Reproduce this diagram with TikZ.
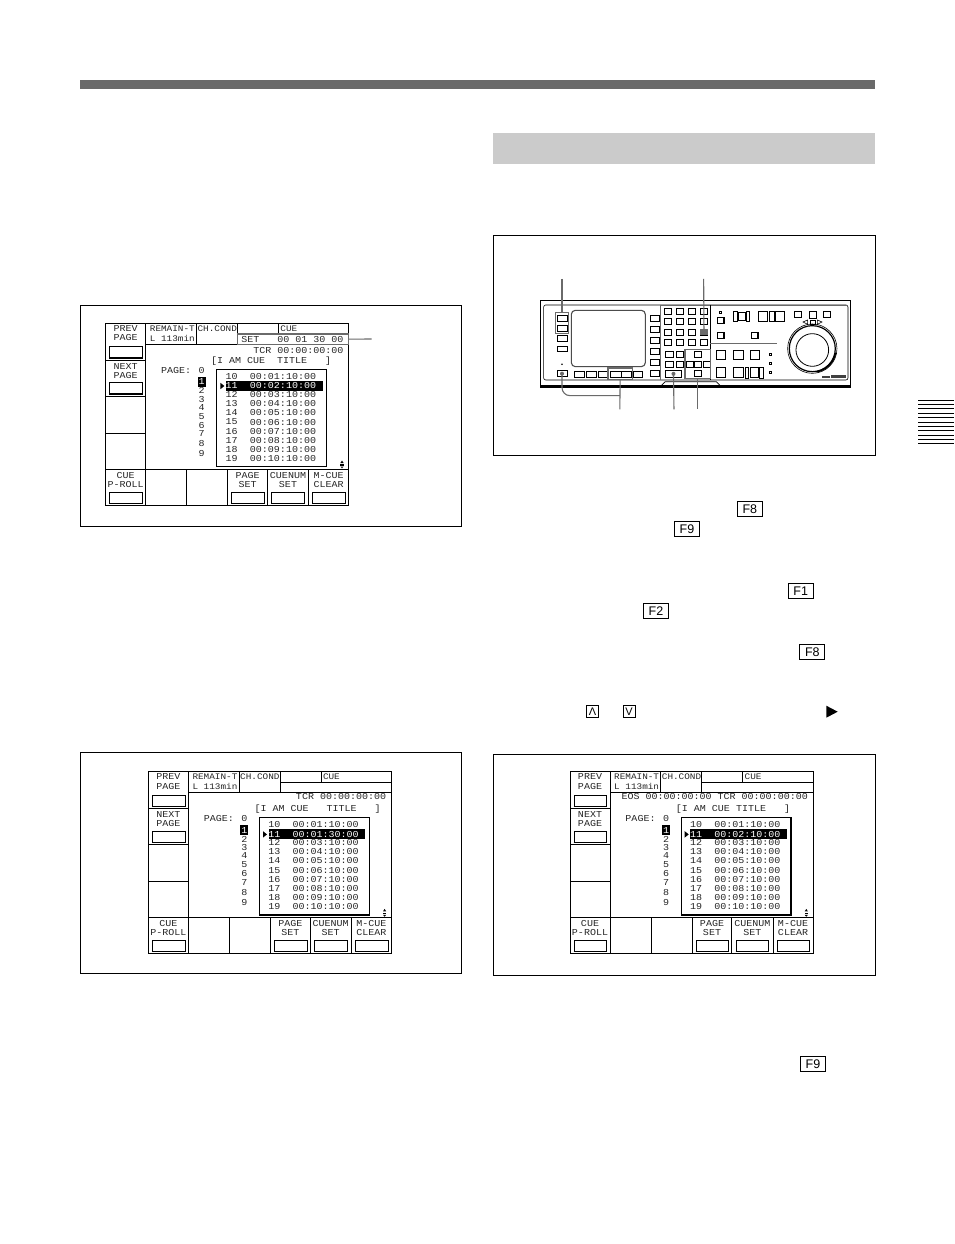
\documentclass[tikz,border=0pt]{standalone}
\usepackage{fontspec}
\setmainfont{Liberation Sans}
\setmonofont[FakeStretch=1.1]{Liberation Mono}
\usetikzlibrary{positioning}

\definecolor{leadgray}{HTML}{6A6A6A}
\definecolor{barbgray}{HTML}{CBCBCB}

\tikzset{
	figframe/.style={draw=black,line width=0.7pt},
	lcd/.style={inner sep=0pt,font=\fontsize{9.1}{10}\ttfamily,text=black!85},
	lcdhead/.style={lcd,font=\fontsize{8.5}{10}\ttfamily},
	lcdline/.style={line width=0.8pt},
	softkey/.style={draw,line width=0.7pt,fill=white,inner sep=0pt,minimum width=32.5pt,minimum height=11pt,anchor=north west},
	fkey/.style={draw,line width=0.7pt,inner sep=0pt,minimum width=25pt,minimum height=14.5pt,font=\fontsize{12.5}{12}\selectfont},
	arrkey/.style={draw,line width=0.7pt,inner sep=0pt,minimum size=12pt,font=\fontsize{11}{10}\selectfont},
	devkey/.style={draw,line width=0.8pt,inner sep=0pt,outer sep=0pt},
	devgrp/.style={draw=leadgray,line width=1.2pt,inner sep=0pt,outer sep=0pt},
	leader/.style={draw=leadgray,line width=1.1pt},
}

% soft key with its shadow, offsets inside the screen
\newcommand{\softbtn}[3]{
	\node[softkey] (#1) at (#2,#3) {};
	\draw[line width=1.1pt] (#1.south west) -- (#1.south east) -- (#1.north east);
}

% one whole LCD screen: name, x, y, row 11 time, top right text, its dy, title, its dx
\newcommand{\lcdscreen}[8]{
	\begin{scope}[shift={(#2,#3)}]
		\draw[lcdline] (0,0) rectangle (243,182);
		\draw[lcdline] (40,0) -- (40,182);
		\draw[lcdline] (40,21) -- (243,21);
		\draw[lcdline] (90.7,0) -- (90.7,21);
		\draw[lcdline] (131.7,0) -- (131.7,21);
		\draw[lcdline] (172.7,0) -- (172.7,10.5);
		\draw[lcdline] (131.7,10.5) -- (243,10.5);
		\draw[lcdline] (0,36.7) -- (40,36.7);
		\draw[lcdline] (0,72.7) -- (40,72.7);
		\draw[lcdline] (0,110) -- (40,110);
		\draw[lcdline] (0,145.7) -- (243,145.7);
		\foreach \xdiv in {81,122,161.7,203}
			\draw[lcdline] (\xdiv,145.7) -- (\xdiv,182);
		\node[lcd] (#1-prev) at (20,5) {PREV};
		\node[lcd] (#1-prevp) at (20,14.3) {PAGE};
		\softbtn{#1-prevk}{3.7}{23}
		\node[lcd] (#1-next) at (20,42.7) {NEXT};
		\node[lcd] (#1-nextp) at (20,51.7) {PAGE};
		\softbtn{#1-nextk}{3.7}{59}
		\node[lcdhead,anchor=west] (#1-remain) at (44,5) {REMAIN-T};
		\node[lcdhead,anchor=west] (#1-left) at (44,14.7) {L 113min};
		\node[lcdhead,anchor=west] (#1-cond) at (91.7,5) {CH.COND};
		\node[lcdhead,anchor=west] (#1-cue) at (174.5,5) {CUE};
		\node[lcd,anchor=east] (#1-top) at (238,#6) {#5};
		\node[lcd] (#1-title) at (#8,37.7) {#7};
		\node[lcd] (#1-page) at (70.5,47) {PAGE:};
		\node[lcd] (#1-pg0) at (96,47) {0};
		\foreach \pgdig/\pgy in {2/67.5,3/76,4/84,5/93,6/102,7/110.5,8/120.5,9/130.5}
			\node[lcd] (#1-pg\pgdig) at (96,\pgy) {\pgdig};
		\node[fill=black,text=white,lcd,text=white,minimum width=8pt,minimum height=9.5pt] (#1-pg1) at (96,58.5) {1};
		\draw[line width=0.8pt,fill=white] (111,46) rectangle (221,143.3);
		\draw[line width=1.3pt] (111,143.3) -- (221,143.3) -- (221,46);
		\foreach \rownum/\rowy/\rowt in {10/52.7/00:01:10:00,12/70.7/00:03:10:00,13/79.7/00:04:10:00,14/88.7/00:05:10:00,15/98.7/00:06:10:00,16/107.7/00:07:10:00,17/116.7/00:08:10:00,18/125.7/00:09:10:00,19/134.7/00:10:10:00}{
			\node[lcd] (#1-n\rownum) at (126,\rowy) {\rownum};
			\node[lcd] (#1-t\rownum) at (177.3,\rowy) {\rowt};
		}
		\fill[black] (120.3,57.7) rectangle (217,67.7);
		\fill[black] (114.7,59.5) -- (118.7,62.7) -- (114.7,65.9) -- cycle;
		\node[lcd,text=white] (#1-n11) at (126,62.5) {11};
		\node[lcd,text=white] (#1-t11) at (177.3,62.5) {#4};
		% scroll mark
		\fill (234.7,139.7) -- (237.9,139.7) -- (236.3,137.2) -- cycle;
		\fill (234.7,141) rectangle (237.9,142.2);
		\fill (234.7,143.2) -- (237.9,143.2) -- (236.3,145) -- cycle;
		\node[lcd] (#1-cuek) at (20,151.7) {CUE};
		\node[lcd] (#1-proll) at (20,160.7) {P-ROLL};
		\softbtn{#1-cuekey}{3.7}{168.3}
		\node[lcd] (#1-pgset) at (142,151.7) {PAGE};
		\node[lcd] (#1-pgset2) at (142,160.7) {SET};
		\softbtn{#1-pgkey}{125.7}{168.3}
		\node[lcd] (#1-cnum) at (182.3,151.7) {CUENUM};
		\node[lcd] (#1-cnum2) at (182.3,160.7) {SET};
		\softbtn{#1-cnkey}{165.7}{168.3}
		\node[lcd] (#1-mcue) at (223,151.7) {M-CUE};
		\node[lcd] (#1-mcue2) at (223,160.7) {CLEAR};
		\softbtn{#1-mckey}{206.7}{168.3}
	\end{scope}
}

% a panel key given by its two corners
\newcommand{\pkey}[5]{
	\node[devkey,minimum width={(#4-(#2))/3*1pt},minimum height={(#5-(#3))/3*1pt}] (#1) at ({(#2+#4)/2},{(#3+#5)/2}) {};
}
\newcommand{\pgrp}[5]{
	\node[devgrp,minimum width={(#4-(#2))/3*1pt},minimum height={(#5-(#3))/3*1pt}] (#1) at ({(#2+#4)/2},{(#3+#5)/2}) {};
}

\begin{document}
\begin{tikzpicture}[x=1pt,y=-1pt]
	\useasboundingbox (0,0) rectangle (954,1244);
	\fill[white] (0,0) rectangle (954,1244);

	% page furniture
	\fill[leadgray] (80,80) rectangle (875,89);
	\fill[barbgray] (493,133) rectangle (875,164);
	\foreach \ytab in {400,404,408.7,413.3,417.7,422.3,426.3,430.7,435.3,439.3,443.3}
		\draw[line width=1pt] (918,\ytab) -- (954,\ytab);

	% figure frames
	\draw[figframe] (80,305) rectangle (461,526);
	\draw[figframe] (80,752) rectangle (461,973);
	\draw[figframe] (493,235) rectangle (875,455);
	\draw[figframe] (493,754) rectangle (875,975);

	% the three screens
	\lcdscreen{scra}{105.7}{323.3}{00:02:10:00}{TCR 00:00:00:00}{26.7}{[I AM CUE~~TITLE~~~]}{165.5}
	\lcdscreen{scrb}{148.3}{771.7}{00:01:30:00}{TCR 00:00:00:00}{25}{[I AM CUE~~~TITLE~~~]}{169.3}
	\lcdscreen{scrc}{570}{771.7}{00:02:10:00}{EOS 00:00:00:00 TCR 00:00:00:00}{25}{[I AM CUE TITLE~~~]}{163}

	\node[draw=leadgray,line width=1.1pt,fill=white,inner sep=0pt,outer sep=0pt,minimum width=111.3pt,minimum height=10.3pt,anchor=north west] (setbox) at (237.4,334) {};
	\node[lcd,anchor=east] (settime) at (343.7,339) {SET~~~00 01 30 00};
	\coordinate (setend) at (371.7,339);
	\draw[leader] (setbox.east) -- (setend);

	% function key marks in the text column
	\node[fkey] (keyfa) at (749.8,509) {F8};
	\node[fkey] (keyfb) at (687,529) {F9};
	\node[fkey] (keyfc) at (800.7,591) {F1};
	\node[fkey] (keyfd) at (656,611) {F2};
	\node[fkey] (keyfe) at (812.3,652) {F8};
	\node[arrkey] (keyup) at (592.5,711.7) {Λ};
	\node[arrkey] (keydn) at (629,711.7) {V};
	\fill (826.3,705.7) -- (837.7,711.7) -- (826.3,717.7) -- cycle;
	\node[fkey] (keyff) at (813,1064) {F9};

	% control panel, in 3x units of the figure
	\begin{scope}[shift={(493,235)},x=0.3333pt,y=-0.3333pt]
		\draw[line width=1.4pt] (143,197) rectangle (1073,458);
		\draw[line width=0.6pt,rounded corners=2pt] (152,210) rectangle (1065,435);
		\draw[line width=3pt] (143,456) -- (1073,456);
		\draw[line width=0.7pt] (505,452) -- (517,440) -- (670,440) -- (682,452);
		\draw[leadgray,line width=1pt] (503,210) -- (503,435);
		\draw[leadgray,line width=0.8pt] (503,211) -- (1065,211);
		\draw[line width=0.7pt] (652,211) -- (652,435);
		\draw[leadgray,line width=0.8pt] (652,324) -- (852,324);
		\draw[line width=1.1pt,draw=black!70,rounded corners=4pt] (235,226) rectangle (457,395);

		% left column
		\pkey{lefta}{192}{240}{222}{258}
		\pkey{leftb}{192}{270}{222}{288}
		\pkey{leftc}{192}{302}{222}{320}
		\pkey{leftd}{192}{334}{222}{350}
		\fill (207,388) circle (2.5);
		\pkey{shiftkey}{192}{407}{222}{425}
		\fill[leadgray] (shiftkey.center) circle (6);
		% under the screen
		\foreach \keyx/\keyw in {245/30,281/30,317/30,351/33,386/28,421/26}{
			\pkey{ukey\keyx}{\keyx}{408}{\keyx+\keyw}{426}
		}
		% beside the screen
		\foreach \keyy in {240,273,307,340,373,407}{
			\pkey{skey\keyy}{472}{\keyy}{498}{\keyy+18}
		}
		% key grid
		\foreach \gridx in {514,550,586,622}{
			\foreach \gridy in {219,251,283,314}{
				\pkey{grid\gridx-\gridy}{\gridx}{\gridy}{\gridx+22}{\gridy+18}
			}
		}
		\fill[leadgray] (622,283) rectangle (644,301);
		\foreach \gridx in {518,550}{
			\foreach \gridy in {350,380}{
				\pkey{pad\gridx-\gridy}{\gridx}{\gridy}{\gridx+22}{\gridy+18}
			}
		}
		\pkey{widekey}{518}{407}{565}{426}
		\fill[leadgray] (widekey.center) circle (6);
		% cross keys
		\pkey{crossn}{605}{350}{625}{368}
		\pkey{crossw}{580}{380}{600}{398}
		\pkey{crossc}{605}{380}{625}{398}
		\pkey{crosse}{631}{380}{651}{398}
		\pkey{crosss}{605}{407}{625}{425}

		% right part
		\pkey{dota}{679}{229}{685}{236}
		\pkey{righta}{673}{248}{693}{266}
		\pkey{rightb}{673}{292}{693}{311}
		\pkey{rightc}{775}{292}{795}{311}
		\draw[line width=1.1pt] (675,266) -- (693,266) -- (693,250);
		\draw[line width=1.1pt] (675,311) -- (693,311) -- (693,294);
		\draw[line width=1.1pt] (777,311) -- (795,311) -- (795,294);
		\pkey{ctla}{722}{228}{732}{258}
		\pkey{ctlb}{735}{233}{757}{255}
		\pkey{ctlc}{760}{228}{770}{258}
		\pkey{ctld}{797}{228}{823}{258}
		\pkey{ctle}{829}{228}{843}{258}
		\pkey{ctlf}{846}{228}{873}{258}
		\pkey{tapea}{904}{228}{925}{248}
		\pkey{tapeb}{950}{230}{970}{250}
		\pkey{tapec}{992}{228}{1013}{248}
		\draw[line width=0.6pt] (944,255) -- (930,261) -- (944,268) -- cycle;
		\pkey{tapem}{952}{255}{966}{268}
		\draw[line width=0.6pt] (973,255) -- (987,261) -- (973,268) -- cycle;
		\pkey{lowa}{670}{345}{698}{373}
		\pkey{lowb}{722}{345}{750}{373}
		\pkey{lowc}{773}{345}{800}{373}
		\pkey{lowd}{670}{398}{698}{427}
		\pkey{lowe}{722}{398}{750}{427}
		\pkey{lowf}{757}{398}{767}{430}
		\pkey{lowg}{772}{398}{797}{427}
		\pkey{lowh}{800}{398}{811}{430}
		\foreach \lowy in {358,385,412}{
			\pkey{lamp\lowy}{829}{\lowy-3}{835}{\lowy+3}
		}

		% jog dial
		\draw[line width=0.6pt] (958,341) circle (74);
		\draw[line width=1.2pt] (958,341) circle (69);
		\draw[line width=0.8pt] (958,345) circle (49);
		\draw[line width=1.6pt] (1028,353) arc (10:80:71);

		% maker mark
		\fill[black!75] (987,423) rectangle (1012,428);
		\fill[black!75] (1015,420) rectangle (1058,429);

		% groups and leaders
		\pgrp{grpshift}{187}{232}{227}{296}
		\pgrp{grpfn}{345}{399}{418}{433}
		\pgrp{grpcross}{576}{343}{652}{430}
		\coordinate (tipa) at (207,132);
		\coordinate (tipb) at (632,132);
		\coordinate (tipc) at (380.5,523);
		\coordinate (tipd) at (543,523);
		\coordinate (tipe) at (614,523);
		\coordinate (tipj) at (380.5,482);
		\draw[leader] (tipa) -- (grpshift.north);
		\draw[leader] (tipb) -- (grid622-283.center);
		\draw[leader] (grpfn.south) -- (tipc);
		\draw[leader,rounded corners=8pt] (shiftkey.center) |- (tipj);
		\draw[leader] (widekey.center) -- (tipd);
		\draw[leader] (grpcross.south) -- (tipe);
	\end{scope}
\end{tikzpicture}
\end{document}
